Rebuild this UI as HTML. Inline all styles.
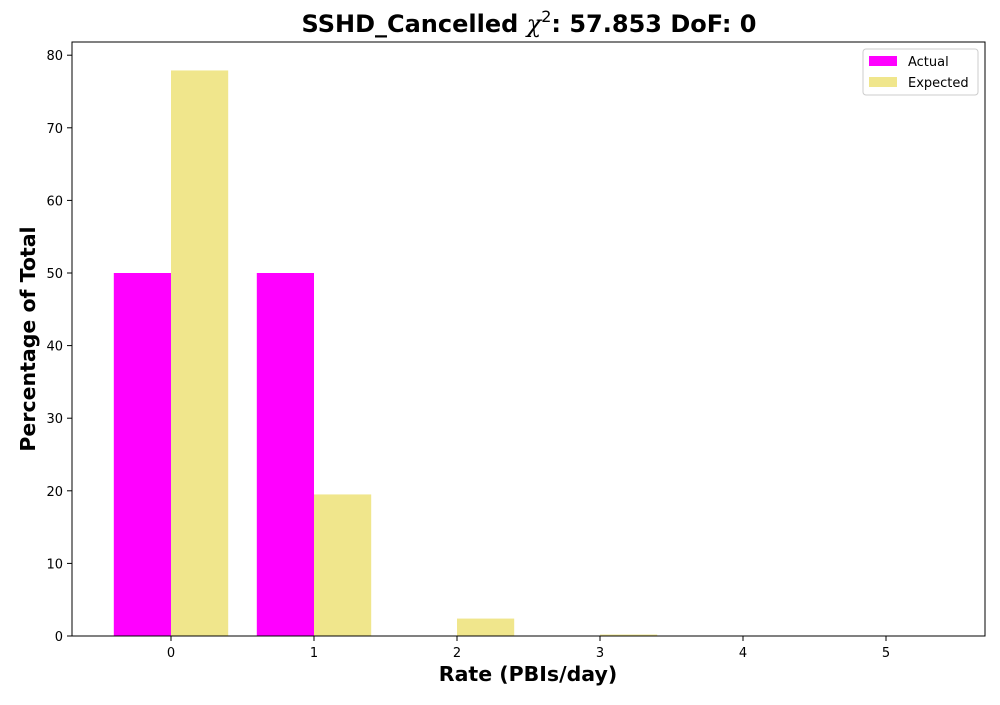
<!DOCTYPE html>
<html><head><meta charset="utf-8"><style>
body{margin:0;background:#fff;}
svg text{font-family:"DejaVu Sans","Liberation Sans",sans-serif;}
</style></head><body>
<svg id="chart" width="1000" height="700" xmlns="http://www.w3.org/2000/svg">
<rect width="1000" height="700" fill="#fff"/>
<text x="529" y="32" text-anchor="middle" font-size="24" font-weight="bold">SSHD_Cancelled <tspan font-style="italic" font-weight="normal" font-family="DejaVu Serif, serif">χ</tspan><tspan font-size="16" dy="-10" font-weight="normal">2</tspan><tspan dy="10">: 57.853 DoF: 0</tspan></text>
<g id="bars"></g>
<rect x="72" y="42" width="913" height="594" fill="none" stroke="#000" stroke-width="1"/>
<g id="xt"></g><g id="yt"></g>
<text x="528" y="681" text-anchor="middle" font-size="20.5" font-weight="bold">Rate (PBIs/day)</text>
<text transform="translate(35,339) rotate(-90)" text-anchor="middle" font-size="20.5" font-weight="bold">Percentage of Total</text>
<g>
<rect x="863" y="49" width="115" height="46" fill="#fff" stroke="#ccc" rx="3"/>
<rect x="869" y="56" width="28" height="10" fill="#ff00ff"/>
<text x="908" y="66" font-size="13">Actual</text>
<rect x="869" y="77" width="28" height="10" fill="#f0e68c"/>
<text x="908" y="87" font-size="13">Expected</text>
</g>
</svg>
<script>
const categories=[0,1,2,3,4,5];
const actual=[50,50,0,0,0,0];
const expected=[77.9,19.5,2.4,0.2,0.01,0];
const yTicks=[0,10,20,30,40,50,60,70,80];
const NS="http://www.w3.org/2000/svg";
const X=v=>171+(v)*143, Y=v=>636-v*7.26;
function mk(t,a,p){const e=document.createElementNS(NS,t);for(const k in a)e.setAttribute(k,a[k]);p.appendChild(e);return e;}
const bars=document.getElementById('bars');
categories.forEach((c,i)=>{
 let r=mk('rect',{x:X(c-0.4),y:Y(actual[i]),width:X(c)-X(c-0.4),height:Y(0)-Y(actual[i]),fill:'#ff00ff'},bars);
 
 
 let s=mk('rect',{x:X(c),y:Y(expected[i]),width:X(c+0.4)-X(c),height:Y(0)-Y(expected[i]),fill:'#f0e68c'},bars);
 
 
});
const xt=document.getElementById('xt');
categories.forEach(c=>{
 mk('line',{x1:X(c),x2:X(c),y1:636,y2:641,stroke:'#000'},xt);
 let t=mk('text',{x:X(c),y:657,'text-anchor':'middle','font-size':13},xt);t.textContent=c;
 
 
});
const yt=document.getElementById('yt');
yTicks.forEach(v=>{
 mk('line',{x1:67,x2:72,y1:Y(v),y2:Y(v),stroke:'#000'},yt);
 let t=mk('text',{x:63,y:Y(v)+5,'text-anchor':'end','font-size':13},yt);t.textContent=v;
 
 
});
</script>
</body></html>
